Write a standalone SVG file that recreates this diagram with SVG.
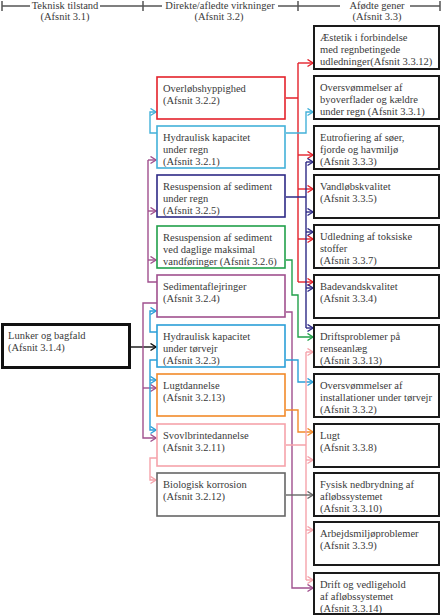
<svg xmlns="http://www.w3.org/2000/svg" width="442" height="616" viewBox="0 0 442 616">
<style>
text{font-family:"Liberation Serif","Times New Roman",serif;font-size:10.5px;fill:#3a3a3a}
.hd{text-anchor:middle}
.hl{stroke:#555;stroke-width:1.5;fill:none}
.mb{fill:#fff;stroke-width:1.6}
.rb{fill:#fff;stroke:#1a1a1a;stroke-width:2}
.c{fill:none;stroke-width:1.4}
.red{stroke:#e4222b}.lb{stroke:#43b1d9}.ind{stroke:#2e2a86}.grn{stroke:#21a04a}.pur{stroke:#a0508e}.blu{stroke:#2b9fd8}.org{stroke:#f28a2a}.pnk{stroke:#f5a3ab}.gry{stroke:#666}.blk{stroke:#111}
</style>
<defs>
<marker id="aR" markerUnits="userSpaceOnUse" markerWidth="8" markerHeight="9" refX="6.5" refY="4" orient="auto"><path d="M1,0.5 L6.5,4 L1,7.5" fill="none" stroke="#e4222b" stroke-width="1.4"/></marker>
<marker id="aLB" markerUnits="userSpaceOnUse" markerWidth="8" markerHeight="9" refX="6.5" refY="4" orient="auto"><path d="M1,0.5 L6.5,4 L1,7.5" fill="none" stroke="#43b1d9" stroke-width="1.4"/></marker>
<marker id="aI" markerUnits="userSpaceOnUse" markerWidth="8" markerHeight="9" refX="6.5" refY="4" orient="auto"><path d="M1,0.5 L6.5,4 L1,7.5" fill="none" stroke="#2e2a86" stroke-width="1.4"/></marker>
<marker id="aG" markerUnits="userSpaceOnUse" markerWidth="8" markerHeight="9" refX="6.5" refY="4" orient="auto"><path d="M1,0.5 L6.5,4 L1,7.5" fill="none" stroke="#21a04a" stroke-width="1.4"/></marker>
<marker id="aP" markerUnits="userSpaceOnUse" markerWidth="8" markerHeight="9" refX="6.5" refY="4" orient="auto"><path d="M1,0.5 L6.5,4 L1,7.5" fill="none" stroke="#a0508e" stroke-width="1.4"/></marker>
<marker id="aB" markerUnits="userSpaceOnUse" markerWidth="8" markerHeight="9" refX="6.5" refY="4" orient="auto"><path d="M1,0.5 L6.5,4 L1,7.5" fill="none" stroke="#2b9fd8" stroke-width="1.4"/></marker>
<marker id="aO" markerUnits="userSpaceOnUse" markerWidth="8" markerHeight="9" refX="6.5" refY="4" orient="auto"><path d="M1,0.5 L6.5,4 L1,7.5" fill="none" stroke="#f28a2a" stroke-width="1.4"/></marker>
<marker id="aPk" markerUnits="userSpaceOnUse" markerWidth="8" markerHeight="9" refX="6.5" refY="4" orient="auto"><path d="M1,0.5 L6.5,4 L1,7.5" fill="none" stroke="#f5a3ab" stroke-width="1.4"/></marker>
<marker id="aGr" markerUnits="userSpaceOnUse" markerWidth="8" markerHeight="9" refX="6.5" refY="4" orient="auto"><path d="M1,0.5 L6.5,4 L1,7.5" fill="none" stroke="#666" stroke-width="1.4"/></marker>
<marker id="aK" markerUnits="userSpaceOnUse" markerWidth="8" markerHeight="9" refX="6.5" refY="4" orient="auto"><path d="M1,0.5 L6.5,4 L1,7.5" fill="none" stroke="#111" stroke-width="1.4"/></marker>
</defs>
<rect width="442" height="616" fill="#fff"/>

<g id="header">
<path class="hl" d="M2,1 V11 M143,1 V11 M298,1 V11 M440,1 V11 M2,6 H30 M100,6 H162 M278,6 H340 M410,6 H440"/>
<text class="hd" x="65" y="9">Teknisk tilstand</text>
<text class="hd" x="65" y="20">(Afsnit 3.1)</text>
<text class="hd" x="220" y="9">Direkte/afledte virkninger</text>
<text class="hd" x="219" y="20">(Afsnit 3.2)</text>
<text class="hd" x="377" y="9">Afødte gener</text>
<text class="hd" x="377" y="20">(Afsnit 3.3)</text>
</g>

<g id="connectors">
<!-- left side -->
<path class="c blk" d="M131,347 H156" marker-end="url(#aK)"/>
<path class="c lb" d="M157,133 H150 V112 H156" marker-end="url(#aLB)"/>
<path class="c pur" d="M157,282 H148 V160"/>
<path class="c pur" d="M148,160 H156" marker-end="url(#aP)"/>
<path class="c pur" d="M148,211 H156" marker-end="url(#aP)"/>
<path class="c pur" d="M148,260 H156" marker-end="url(#aP)"/>
<path class="c pur" d="M157,303 H143 V438 H156" marker-end="url(#aP)"/>
<path class="c pur" d="M143,388 H156" marker-end="url(#aP)"/>
<path class="c blu" d="M157,332 H150 V311 H156" marker-end="url(#aB)"/>
<path class="c blu" d="M157,360 H150 V430 H156" marker-end="url(#aB)"/>
<path class="c blu" d="M150,380 H156" marker-end="url(#aB)"/>
<path class="c pnk" d="M157,458 H150 V480 H156" marker-end="url(#aPk)"/>
<!-- right side -->
<path class="c pur" d="M286,312 H292 V588 H313" marker-end="url(#aP)"/>
<path class="c grn" d="M286,260 H292 V295 H298 V337 H313" marker-end="url(#aG)"/>
<path class="c red" d="M286,98 H298 M298,63 V282"/>
<path class="c red" d="M298,63 H313" marker-end="url(#aR)"/>
<path class="c red" d="M298,155 H313" marker-end="url(#aR)"/>
<path class="c red" d="M298,189 H313" marker-end="url(#aR)"/>
<path class="c red" d="M298,239 H313" marker-end="url(#aR)"/>
<path class="c red" d="M298,282 H313" marker-end="url(#aR)"/>
<path class="c lb" d="M286,133 H306 V112 H313" marker-end="url(#aLB)"/>
<path class="c ind" d="M286,197 H306 M306,162 V328"/>
<path class="c ind" d="M306,162 H313" marker-end="url(#aI)"/>
<path class="c ind" d="M306,212 H313" marker-end="url(#aI)"/>
<path class="c ind" d="M306,232 H313" marker-end="url(#aI)"/>
<path class="c ind" d="M306,288 H313" marker-end="url(#aI)"/>
<path class="c ind" d="M306,328 H313" marker-end="url(#aI)"/>
<path class="c blu" d="M286,360 H298 V382 H313" marker-end="url(#aB)"/>
<path class="c org" d="M286,410 H298 V432 H313" marker-end="url(#aO)"/>
<path class="c pnk" d="M286,445 H306 M306,352 V580"/>
<path class="c pnk" d="M306,352 H313" marker-end="url(#aPk)"/>
<path class="c pnk" d="M306,460 H313" marker-end="url(#aPk)"/>
<path class="c pnk" d="M306,530 H313" marker-end="url(#aPk)"/>
<path class="c pnk" d="M306,580 H313" marker-end="url(#aPk)"/>
<path class="c gry" d="M286,495 H313" marker-end="url(#aGr)"/>
</g>

<g id="n-lunker">
<rect x="2.5" y="324.5" width="127" height="43" fill="#fff" stroke="#111" stroke-width="3"/>
<text x="8" y="339">Lunker og bagfald</text>
<text x="8" y="351">(Afsnit 3.1.4)</text>
</g>

<g id="n-overloeb">
<rect class="mb red" x="157" y="77" width="128" height="42"/>
<text x="163" y="91.5">Overløbshyppighed</text>
<text x="163" y="103.5">(Afsnit 3.2.2)</text>
</g>
<g id="n-hydr-regn">
<rect class="mb lb" x="157" y="126" width="128" height="42"/>
<text x="163" y="140.5">Hydraulisk kapacitet</text>
<text x="163" y="152.5">under regn</text>
<text x="163" y="164.5">(Afsnit 3.2.1)</text>
</g>
<g id="n-resusp-regn">
<rect class="mb ind" x="157" y="175" width="128" height="42"/>
<text x="163" y="189.5">Resuspension af sediment</text>
<text x="163" y="201.5">under regn</text>
<text x="163" y="213.5">(Afsnit 3.2.5)</text>
</g>
<g id="n-resusp-daglig">
<rect class="mb grn" x="157" y="226" width="128" height="42"/>
<text x="163" y="240.5">Resuspension af sediment</text>
<text x="163" y="252.5">ved daglige maksimal</text>
<text x="163" y="264.5">vandføringer (Afsnit 3.2.6)</text>
</g>
<g id="n-sediment">
<rect class="mb pur" x="157" y="275" width="128" height="42"/>
<text x="163" y="289.5">Sedimentaflejringer</text>
<text x="163" y="301.5">(Afsnit 3.2.4)</text>
</g>
<g id="n-hydr-toervejr">
<rect class="mb blu" x="157" y="325" width="128" height="42"/>
<text x="163" y="339.5">Hydraulisk kapacitet</text>
<text x="163" y="351.5">under tørvejr</text>
<text x="163" y="363.5">(Afsnit 3.2.3)</text>
</g>
<g id="n-lugtdannelse">
<rect class="mb org" x="157" y="374" width="128" height="42"/>
<text x="163" y="388.5">Lugtdannelse</text>
<text x="163" y="400.5">(Afsnit 3.2.13)</text>
</g>
<g id="n-svovlbrinte">
<rect class="mb pnk" x="157" y="424" width="128" height="42"/>
<text x="163" y="438.5">Svovlbrintedannelse</text>
<text x="163" y="450.5">(Afsnit 3.2.11)</text>
</g>
<g id="n-korrosion">
<rect class="mb gry" x="157" y="473" width="128" height="43"/>
<text x="163" y="487.5">Biologisk korrosion</text>
<text x="163" y="499.5">(Afsnit 3.2.12)</text>
</g>

<g id="r-aestetik">
<rect class="rb" x="314" y="26" width="125" height="43"/>
<text x="320" y="40.5">Æstetik i forbindelse</text>
<text x="320" y="52.5">med regnbetingede</text>
<text x="320" y="64.5">udledninger(Afsnit 3.3.12)</text>
</g>
<g id="r-oversv-by">
<rect class="rb" x="314" y="76" width="125" height="43"/>
<text x="320" y="90.5">Oversvømmelser af</text>
<text x="320" y="102.5">byoverflader og kældre</text>
<text x="320" y="114.5">under regn (Afsnit 3.3.1)</text>
</g>
<g id="r-eutrof">
<rect class="rb" x="314" y="126" width="125" height="43"/>
<text x="320" y="140.5">Eutrofiering af søer,</text>
<text x="320" y="152.5">fjorde og havmiljø</text>
<text x="320" y="164.5">(Afsnit 3.3.3)</text>
</g>
<g id="r-vandloeb">
<rect class="rb" x="314" y="175" width="125" height="43"/>
<text x="320" y="189.5">Vandløbskvalitet</text>
<text x="320" y="201.5">(Afsnit 3.3.5)</text>
</g>
<g id="r-udledning">
<rect class="rb" x="314" y="225" width="125" height="43"/>
<text x="320" y="239.5">Udledning af toksiske</text>
<text x="320" y="251.5">stoffer</text>
<text x="320" y="263.5">(Afsnit 3.3.7)</text>
</g>
<g id="r-badevand">
<rect class="rb" x="314" y="275" width="125" height="43"/>
<text x="320" y="289.5">Badevandskvalitet</text>
<text x="320" y="301.5">(Afsnit 3.3.4)</text>
</g>
<g id="r-driftsprobl">
<rect class="rb" x="314" y="325" width="125" height="42"/>
<text x="320" y="339.5">Driftsproblemer på</text>
<text x="320" y="351.5">renseanlæg</text>
<text x="320" y="363.5">(Afsnit 3.3.13)</text>
</g>
<g id="r-oversv-inst">
<rect class="rb" x="314" y="374" width="125" height="43"/>
<text x="320" y="388.5">Oversvømmelser af</text>
<text x="320" y="400.5">installationer under tørvejr</text>
<text x="320" y="412.5">(Afsnit 3.3.2)</text>
</g>
<g id="r-lugt">
<rect class="rb" x="314" y="424" width="125" height="43"/>
<text x="320" y="438.5">Lugt</text>
<text x="320" y="450.5">(Afsnit 3.3.8)</text>
</g>
<g id="r-fysisk">
<rect class="rb" x="314" y="473" width="125" height="43"/>
<text x="320" y="487.5">Fysisk nedbrydning af</text>
<text x="320" y="499.5">afløbssystemet</text>
<text x="320" y="511.5">(Afsnit 3.3.10)</text>
</g>
<g id="r-arbejdsmiljo">
<rect class="rb" x="314" y="522" width="125" height="43"/>
<text x="320" y="536.5">Arbejdsmiljøproblemer</text>
<text x="320" y="548.5">(Afsnit 3.3.9)</text>
</g>
<g id="r-drift">
<rect class="rb" x="314" y="573" width="125" height="41"/>
<text x="320" y="587.5">Drift og vedligehold</text>
<text x="320" y="599.5">af afløbssystemet</text>
<text x="320" y="611.5">(Afsnit 3.3.14)</text>
</g>
</svg>
